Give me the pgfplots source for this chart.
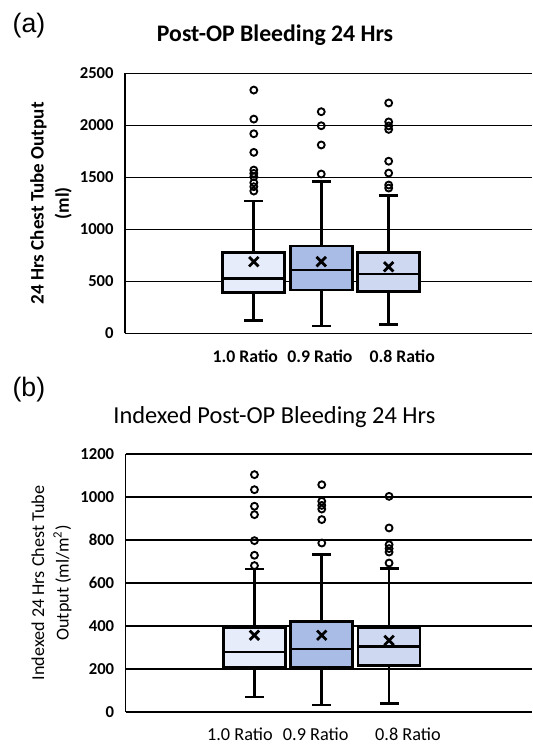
\documentclass[border=0pt]{standalone}
\usepackage{pgfplots}
\pgfplotsset{compat=1.18}
\usepgfplotslibrary{statistics}
\usepackage{fontspec}
\setmainfont{Carlito}
\newfontfamily\arialfont{Liberation Sans}

\definecolor{boxA}{RGB}{230,236,249}
\definecolor{boxB}{RGB}{168,188,230}
\definecolor{boxC}{RGB}{206,217,241}

\pgfplotsset{
  panel/.style={
    scale only axis,
    width=305pt,
    xmin=-0.91, xmax=5.12,
    axis x line*=bottom, axis y line*=left,
    axis line style={line width=1.2pt},
    ymajorgrids,
    grid style={black, line width=1.2pt},
    major tick length=0pt,
    tick label style={font=\bfseries\fontsize{12.5}{14}\selectfont},
    yticklabel style={xshift=-5pt},
    /pgf/number format/1000 sep={},
    /pgf/number format/assume math mode=true,
    boxplot/draw direction=y,
    boxplot/box extend=0.92,
    boxplot/whisker extend=0.28,
  },
  bx/.style={
    draw=black, line width=2pt, fill=#1,
    mark=o, mark size=2.6pt,
    mark options={line width=1.4pt, fill=white, draw=black},
  },
  meanmk/.style={
    only marks, mark=x, mark size=5pt,
    mark options={line width=2.1pt, draw=black},
  },
}

\begin{document}
\begin{tikzpicture}
\useasboundingbox (-93.75pt,-309.5pt) rectangle (305.25pt,250pt);

% (a) absolute output
\begin{axis}[
  panel,
  height=195pt,
  ymin=0, ymax=2500, ytick={0,500,...,2500},
  xtick={0.874,1.98,3.2},
  xticklabels={1.0 Ratio,0.9 Ratio,0.8 Ratio},
  xticklabel style={font=\bfseries\fontsize{13.3}{15}\selectfont, yshift=-9pt},
  title={Post-OP Bleeding 24 Hrs},
  title style={at={(axis description cs:0.369,1.115)}, anchor=center,
    font=\bfseries\fontsize{17.8}{20}\selectfont},
  ylabel={24 Hrs Chest Tube Output\\(ml)},
  ylabel style={at={(axis description cs:-0.182,0.5)}, anchor=center,
    align=center, font=\bfseries\fontsize{14.3}{19}\selectfont},
  clip=false,
]
\addplot[bx=boxA, boxplot prepared={draw position=1,
  lower whisker=121, lower quartile=394, median=529,
  upper quartile=779, upper whisker=1272}]
  table[row sep=\\, y index=0] {y\\ 2339\\ 2060\\ 1919\\ 1740\\ 1570\\ 1538\\ 1506\\ 1448\\ 1410\\ 1368\\};
\addplot[bx=boxB, boxplot prepared={draw position=2,
  lower whisker=70, lower quartile=417, median=609,
  upper quartile=840, upper whisker=1458}]
  table[row sep=\\, y index=0] {y\\ 2131\\ 1996\\ 1811\\ 1532\\};
\addplot[bx=boxC, boxplot prepared={draw position=3,
  lower whisker=87, lower quartile=400, median=570,
  upper quartile=779, upper whisker=1323}]
  table[row sep=\\, y index=0] {y\\ 2215\\ 2033\\ 1994\\ 1961\\ 1655\\ 1541\\ 1426\\ 1397\\};
\addplot[meanmk] coordinates {(1,689) (2,689) (3,640)};
\node[font=\arialfont\fontsize{20}{22}\selectfont] at (axis description cs:-0.236,1.182) {(a)};
\end{axis}

% (b) indexed output
\begin{axis}[
  panel,
  at={(0.4pt,-284pt)},
  height=193.5pt,
  ymin=0, ymax=1200, ytick={0,200,...,1200},
  xmin=-0.915, xmax=5.126,
  xtick={0.784,1.91,3.28},
  xticklabels={1.0 Ratio,0.9 Ratio,0.8 Ratio},
  xticklabel style={font=\fontsize{13.7}{15}\selectfont, yshift=-8pt},
  title={Indexed Post-OP Bleeding 24 Hrs},
  title style={at={(axis description cs:0.366,1.112)}, anchor=center,
    font=\fontsize{18.3}{20}\selectfont},
  ylabel={Indexed 24 Hrs Chest Tube\\Output (ml/m\textsuperscript{2})},
  ylabel style={at={(axis description cs:-0.182,0.5)}, anchor=center,
    align=center, font=\fontsize{13.6}{18.5}\selectfont},
  clip=false,
]
\addplot[bx=boxA, boxplot prepared={draw position=1,
  lower whisker=70, lower quartile=209, median=279,
  upper quartile=391, upper whisker=665}]
  table[row sep=\\, y index=0] {y\\ 1104\\ 1034\\ 957\\ 918\\ 797\\ 729\\ 681\\};
\addplot[bx=boxB, boxplot prepared={draw position=2,
  lower whisker=33, lower quartile=209, median=293,
  upper quartile=422, upper whisker=732}]
  table[row sep=\\, y index=0] {y\\ 1057\\ 980\\ 961\\ 944\\ 895\\ 786\\};
\addplot[bx=boxC, boxplot prepared={draw position=3,
  lower whisker=39, lower quartile=217, median=305,
  upper quartile=394, upper whisker=667}]
  table[row sep=\\, y index=0] {y\\ 1003\\ 856\\ 778\\ 760\\ 744\\ 693\\};
\addplot[meanmk] coordinates {(1,357) (2,357) (3,333)};
\node[font=\arialfont\fontsize{20}{22}\selectfont] at (axis description cs:-0.2377,1.248) {(b)};
\end{axis}
\end{tikzpicture}
\end{document}
